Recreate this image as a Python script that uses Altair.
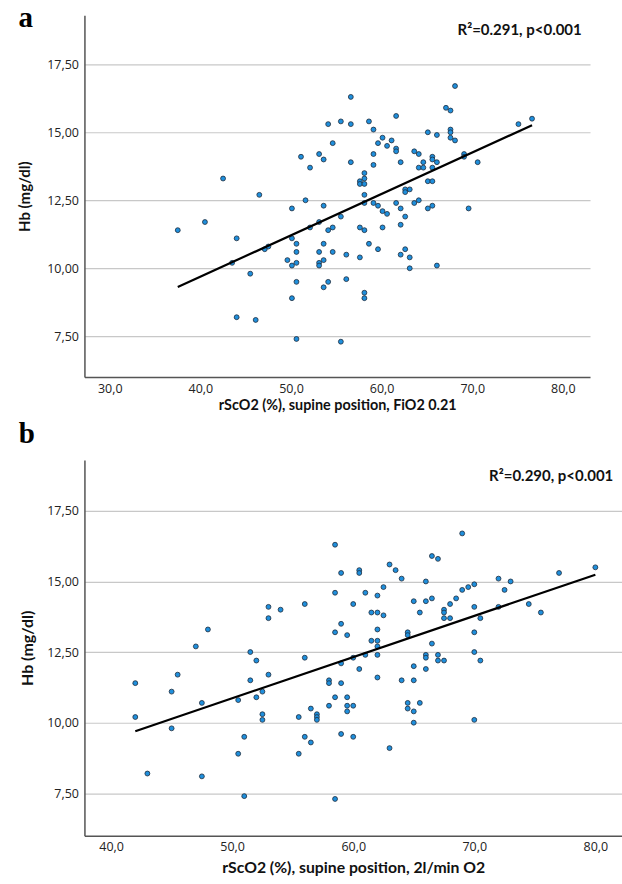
import altair as alt
import pandas as pd

# ---------------- Panel a : FiO2 0.21 ----------------
a_rsco2 = [37.5, 40.5, 42.5, 43.5, 44.0, 44.0, 45.5, 46.1, 46.5, 47.1, 47.5,
           56.6, 61.6, 54.1, 55.5, 56.6, 58.6, 59.1, 54.6, 60.1, 59.6,
           60.6, 61.1, 61.6, 61.6, 51.1, 53.1, 53.6, 52.1, 56.6, 59.1,
           59.1, 62.1, 63.6, 64.1, 64.1, 64.6, 64.6, 65.1, 66.1, 65.6,
           65.6, 66.1, 65.6, 67.1,
           58.1, 58.1, 57.6, 57.6, 58.1,
           62.6, 63.1, 62.6,
           65.1, 65.6,
           58.1, 51.6, 50.1, 53.6, 58.1, 59.1, 59.6, 60.1, 60.6, 61.6, 62.1, 62.6, 63.6, 64.1, 65.1, 65.6,
           55.5, 53.1, 52.1, 54.1, 54.6, 57.6, 58.1, 60.1, 62.1,
           50.1, 50.6, 50.6, 53.6, 53.1, 54.6, 56.1, 58.6, 59.6, 57.6, 62.1, 62.6, 63.1, 63.1, 66.1,
           49.6, 50.1, 50.6, 53.1, 53.1, 53.6,
           50.6, 50.1, 53.6, 54.1, 56.1, 58.1, 58.1, 50.6, 55.5,
           68.1, 67.6, 67.6, 67.6, 67.6, 68.1, 69.1, 69.1, 70.6, 75.1, 76.6, 69.6]
a_hb = [11.4, 11.7, 13.3, 10.2, 11.1, 8.2, 9.8, 8.1, 12.7, 10.7, 10.8,
        16.3, 15.6, 15.3, 15.4, 15.3, 15.4, 15.1, 14.6, 14.8, 14.6,
        14.5, 14.7, 14.4, 14.3, 14.1, 14.2, 14.0, 13.7, 13.9, 14.2,
        13.8, 13.9, 14.3, 14.2, 13.7, 13.9, 13.7, 15.0, 14.9, 14.1,
        14.0, 13.9, 13.7, 15.9,
        13.5, 13.3, 13.2, 13.1, 13.1,
        12.9, 12.9, 12.8,
        13.2, 13.2,
        12.7, 12.5, 12.2, 12.3, 12.4, 12.4, 12.3, 12.1, 12.0, 12.4, 12.2, 11.9, 12.4, 12.5, 12.2, 12.3,
        11.9, 11.7, 11.5, 11.4, 11.5, 11.5, 11.4, 11.5, 11.6,
        11.1, 10.9, 10.6, 10.9, 10.6, 10.6, 10.5, 10.9, 10.7, 10.4, 10.5, 10.7, 10.4, 10.0, 10.1,
        10.3, 10.1, 10.2, 10.2, 10.1, 10.3,
        9.5, 8.9, 9.3, 9.5, 9.6, 9.1, 8.9, 7.4, 7.3,
        16.7, 15.8, 15.1, 15.0, 14.8, 14.7, 14.2, 14.1, 13.9, 15.3, 15.5, 12.2]

# ---------------- Panel b : 2 l/min O2 ----------------
b_rsco2 = [42.0, 42.0, 43.0, 45.0, 45.5, 45.0, 47.0, 48.0, 47.5, 47.5,
           50.5, 50.5, 51.0, 51.0, 51.5, 52.0, 51.5, 52.0, 52.5, 52.5,
           52.5, 53.0, 53.0, 53.0, 54.0, 56.0, 55.5, 55.5, 56.0, 56.0,
           56.5, 56.5, 57.0, 57.0, 57.0,
           58.5, 59.0, 60.5, 60.5, 63.0, 58.5, 61.0, 62.0, 62.5, 60.0,
           61.5, 62.0, 62.5, 59.0, 58.5, 59.5, 62.0, 61.5, 62.0, 62.0,
           59.0, 60.0, 61.0, 62.0, 60.5, 62.0, 58.0, 58.0, 59.0, 58.5,
           59.5, 58.0, 59.5, 59.5, 60.0, 59.0, 60.0, 58.5, 63.0,
           69.0, 66.5, 67.0, 63.5, 64.0, 66.0, 72.0, 73.0, 77.0, 69.0,
           69.5, 70.0, 72.5, 65.0, 66.0, 66.5, 68.5, 68.0, 65.5, 67.5,
           67.5, 67.5, 68.0, 70.0, 72.0, 74.5, 75.5, 70.5, 64.5, 64.5,
           70.0, 66.5, 66.0, 66.0, 67.0, 67.0, 67.5, 70.0, 70.5, 65.0,
           66.0, 64.0, 65.0, 64.5, 64.5, 65.0, 65.5, 65.0, 70.0,
           80.0]
b_hb = [11.4, 10.2, 8.2, 11.1, 11.7, 9.8, 12.7, 13.3, 10.7, 8.1,
        10.8, 8.9, 9.5, 7.4, 12.5, 12.2, 11.5, 10.9, 11.1, 10.3,
        10.1, 11.7, 14.1, 13.7, 14.0, 14.2, 10.2, 8.9, 12.3, 9.5,
        10.5, 9.3, 10.3, 10.2, 10.1,
        16.3, 15.3, 15.4, 15.3, 15.6, 14.6, 14.6, 14.5, 14.8, 14.2,
        13.9, 13.9, 13.8, 13.5, 13.2, 13.1, 13.3, 12.9, 12.9, 12.7,
        12.1, 12.3, 12.4, 12.4, 11.9, 11.6, 11.5, 11.4, 11.4, 10.9,
        10.9, 10.6, 10.6, 10.4, 10.6, 9.6, 9.5, 7.3, 9.1,
        16.7, 15.9, 15.8, 15.4, 15.1, 15.0, 15.1, 15.0, 15.3, 14.7,
        14.8, 14.9, 14.7, 14.3, 14.3, 14.4, 14.4, 14.2, 13.9, 14.0,
        13.9, 13.7, 13.7, 14.1, 14.1, 14.2, 13.9, 13.7, 13.2, 13.1,
        13.2, 12.8, 12.4, 12.3, 12.4, 12.2, 12.2, 12.5, 12.2, 12.0,
        11.9, 11.5, 11.5, 10.7, 10.5, 10.4, 10.7, 10.0, 10.1,
        15.5]

a_xticks = [30, 40, 50, 60, 70, 80]
b_xticks = [40, 50, 60, 70, 80]
y_ticks = [7.5, 10, 12.5, 15, 17.5]
a_xtitle = "rScO2 (%), supine position, FiO2 0.21"
b_xtitle = "rScO2 (%), supine position, 2l/min O2"
a_note = "R\u00b2=0.291, p<0.001"
b_note = "R\u00b2=0.290, p<0.001"

PT_FILL = "#1f8fdc"
PT_STROKE = "#1c2b3c"


def panel(xs, ys, xdom, xticks, w, h, xtitle, note, letter,
          ytitle_x, ytitle_size, xtitle_y, xtitle_size,
          letter_x, letter_y, note_x, note_y, anchor_x):
    df = pd.DataFrame({"x": xs, "y": ys})
    base = alt.Chart(df)
    xenc = alt.X("x:Q",
                 scale=alt.Scale(domain=xdom, nice=False, zero=False),
                 axis=alt.Axis(values=xticks, grid=False, ticks=False,
                               labelExpr="replace(format(datum.value, '.1f'), '.', ',')",
                               labelPadding=5, title=xtitle, titleY=xtitle_y,
                               titleFontSize=xtitle_size, titleBaseline="top"))
    yenc = alt.Y("y:Q",
                 scale=alt.Scale(domain=[6.0, 19.3], nice=False, zero=False),
                 axis=alt.Axis(values=y_ticks, grid=True, ticks=False,
                               labelExpr="replace(format(datum.value, '.2f'), '.', ',')",
                               labelPadding=6, title="Hb (mg/dl)", titleX=ytitle_x,
                               titleFontSize=ytitle_size, titleBaseline="middle"))
    pts = base.mark_circle(size=24, color=PT_FILL, stroke=PT_STROKE,
                           strokeWidth=0.8, opacity=1).encode(x=xenc, y=yenc)
    fit = base.transform_regression("x", "y").mark_line(
        color="black", strokeWidth=2.2).encode(x="x:Q", y="y:Q")
    txt = alt.Chart(pd.DataFrame({"t": [note]})).mark_text(
        align="right", baseline="middle", font="Lato", fontWeight="bold",
        fontSize=15, color="#111").encode(
        x=alt.value(note_x), y=alt.value(note_y), text="t:N")
    lab = alt.Chart(pd.DataFrame({"t": [letter]})).mark_text(
        align="center", baseline="alphabetic", font="Liberation Serif",
        fontWeight="bold", fontSize=29, color="#000").encode(
        x=alt.value(letter_x), y=alt.value(letter_y), text="t:N")
    # invisible anchor fixing the left extent of the panel
    anchor = alt.Chart(pd.DataFrame({"t": [0]})).mark_rule(
        strokeOpacity=0, strokeWidth=1).encode(
        x=alt.value(anchor_x), y=alt.value(h / 2), y2=alt.value(h / 2 + 1))
    return alt.layer(pts, fit, txt, lab, anchor).properties(width=w, height=h)


pa = panel(a_rsco2, a_hb, [27.2, 83.0], a_xticks, 506, 362, a_xtitle, a_note, "a",
           -60, 15, 21, 14.4, -58.8, 12, 497.7, 15, -76.3)
pb = panel(b_rsco2, b_hb, [37.8, 82.2], b_xticks, 538, 376, b_xtitle, b_note, "b",
           -57, 16, 25, 15.8, -57.7, -16.7, 529.3, 16.3, -74.7)

chart = alt.vconcat(pa, pb, spacing=8).properties(
    padding={"left": 7.5, "top": 4, "right": 0, "bottom": 0},
    background="white"
).configure_view(stroke=None).configure_axis(
    domainColor="#555555", domainWidth=1.5,
    gridColor="#c8c8c8", gridWidth=1.2,
    labelFont="Open Sans", labelFontSize=12.5, labelColor="#222222",
    titleFont="Lato", titleFontWeight="bold", titleFontSize=14, titleColor="#111111"
)

chart.save("out.html", embed_options={"renderer": "svg", "actions": False})
